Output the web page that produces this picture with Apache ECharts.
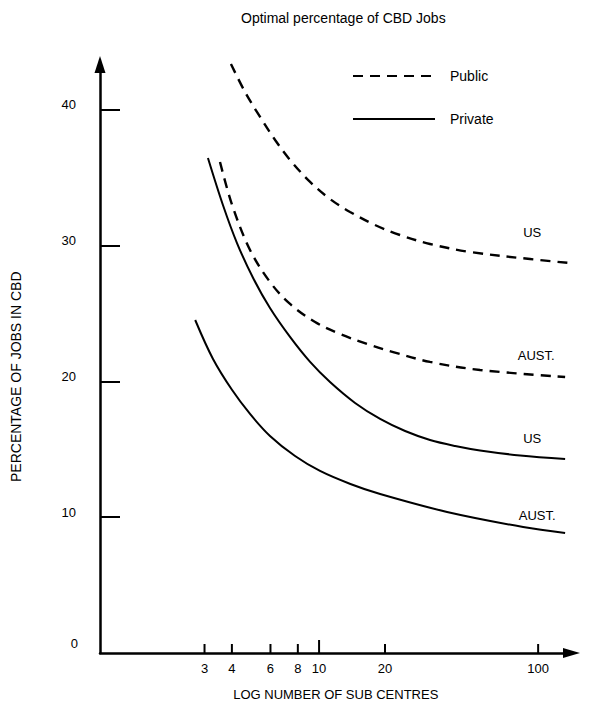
<!DOCTYPE html>
<html>
<head>
<meta charset="utf-8">
<script src="https://cdn.jsdelivr.net/npm/echarts@6/dist/echarts.min.js"></script>
<style>
html,body{margin:0;padding:0;background:#fff;}
#chart{width:595px;height:711px;}
</style>
</head>
<body>
<div id="chart"></div>
<script>
// ---- data ----
const publicUS_x   = [3.96, 4.59, 5.38, 6.30, 7.37, 9.10, 11.22, 13.85, 18.0, 23.4, 32.1, 48.9, 91.9, 172.8];
const publicUS_y   = [43.39, 41.33, 39.49, 37.79, 36.32, 34.7, 33.44, 32.49, 31.53, 30.79, 30.13, 29.54, 29.02, 28.58];
const publicAU_x   = [3.53, 4.01, 4.84, 5.97, 7.37, 9.59, 12.47, 16.57, 21.8, 32.1, 54.3, 132.8];
const publicAU_y   = [36.17, 33.0, 29.69, 27.33, 25.71, 24.38, 23.5, 22.76, 22.17, 21.44, 20.85, 20.33];
const privateUS_x  = [3.11, 3.64, 4.22, 5.00, 5.97, 7.37, 9.10, 11.22, 14.6, 19.0, 24.7, 32.1, 41.8, 54.3, 82.8, 132.8];
const privateUS_y  = [36.46, 33.0, 30.2, 27.62, 25.41, 23.28, 21.44, 19.96, 18.42, 17.24, 16.35, 15.69, 15.25, 14.92, 14.55, 14.29];
const privateAU_x  = [2.72, 3.28, 4.01, 4.84, 5.97, 7.77, 10.1, 13.9, 19.0, 38.4, 85.4, 132.8];
const privateAU_y  = [24.53, 21.66, 19.37, 17.61, 15.99, 14.51, 13.41, 12.45, 11.71, 10.39, 9.28, 8.84];

const xTickValues  = [3, 4, 6, 8, 10, 20, 100];
const xTickLabels  = ['3', '4', '6', '8', '10', '20', '100'];
const yTickValues  = [0, 10, 20, 30, 40];
const yTickLabels  = ['0', '10', '20', '30', '40'];

const curveLabelText = ['US', 'AUST.', 'US', 'AUST.'];
const curveLabelX    = [94, 98, 94, 99];
const curveLabelY    = [31.0, 21.95, 15.8, 10.1];

const legendNames = ['Public', 'Private'];
const titleText = 'Optimal percentage of CBD Jobs';
const xAxisTitle = 'LOG NUMBER OF SUB CENTRES';
const yAxisTitle = 'PERCENTAGE OF JOBS IN CBD';

// ---- build ----
const FONT = '"Liberation Sans", Arial, Helvetica, sans-serif';
function pairs(xs, ys){ return xs.map((x,i)=>[x, ys[i]]); }

const chart = echarts.init(document.getElementById('chart'), null, {renderer:'svg'});

const dashed = {color:'#000', width:2.4, type:[10,7]};
const solid  = {color:'#000', width:2};

function lineSeries(name, data, style){
  return {
    type:'line', name:name, data:data, smooth:0.35, symbol:'none', showSymbol:false,
    lineStyle:style, itemStyle:{color:'#000'}, clip:false, silent:true, z:3
  };
}

const X_MIN = 1, X_MAX = 142;

const option = {
  animation:false,
  backgroundColor:'#fff',
  title:{
    text:titleText, left:236, top:6,
    textStyle:{fontFamily:FONT, fontSize:14, fontWeight:'normal', color:'#000'}
  },
  legend:{
    data:legendNames, orient:'vertical', left:347, top:64, itemGap:29,
    itemWidth:82, itemHeight:14,
    itemStyle:{color:'rgba(0,0,0,0)', borderColor:'rgba(0,0,0,0)', borderWidth:0},
    textStyle:{fontFamily:FONT, fontSize:14, color:'#000', padding:[0,0,0,10]}
  },
  grid:{left:100, right:23.5, top:64.5, bottom:58, containLabel:false},
  xAxis:{
    type:'log', logBase:10, min:X_MIN, max:X_MAX,
    name:xAxisTitle, nameLocation:'middle', nameGap:35,
    nameTextStyle:{fontFamily:FONT, fontSize:13, color:'#000'},
    axisLine:{show:true, lineStyle:{color:'#000', width:2.5}, symbol:['none','triangle'], symbolSize:[10,17]},
    axisTick:{show:false}, axisLabel:{show:false}, splitLine:{show:false}, minorTick:{show:false}
  },
  yAxis:{
    type:'value', min:0, max:43.35,
    name:yAxisTitle, nameLocation:'middle', nameGap:77,
    nameTextStyle:{fontFamily:FONT, fontSize:14, color:'#000', padding:[0,36,0,0]},
    axisLine:{show:true, lineStyle:{color:'#000', width:2.5}, symbol:['none','triangle'], symbolSize:[11,17]},
    axisTick:{show:true, inside:true, length:20, lineStyle:{color:'#000', width:2}, customValues:[10,20,30,40]},
    axisLabel:{show:false},
    splitLine:{show:false}
  },
  series:[
    lineSeries(legendNames[0], pairs(publicUS_x, publicUS_y), dashed),
    lineSeries(legendNames[0], pairs(publicAU_x, publicAU_y), dashed),
    lineSeries(legendNames[1], pairs(privateUS_x, privateUS_y), solid),
    lineSeries(legendNames[1], pairs(privateAU_x, privateAU_y), solid),
    {
      type:'custom', name:'xticks', silent:true, clip:false, z:5,
      data: xTickValues.map((v,i)=>[v, 0, i]),
      renderItem:function(params, api){
        const v = api.value(0);
        const p = api.coord([v, 0]);
        const len = (v === 10) ? 13 : 9;
        return {type:'group', children:[
          {type:'line', shape:{x1:p[0], y1:p[1], x2:p[0], y2:p[1]-len}, style:{stroke:'#000', lineWidth:2}},
          {type:'text', x:p[0], y:p[1]+9, style:{text:xTickLabels[api.value(2)], fill:'#000', font:'13px ' + FONT, textAlign:'center', textVerticalAlign:'top'}}
        ]};
      }
    },
    {
      type:'custom', name:'ylabels', silent:true, clip:false, z:5,
      data: yTickValues.map((v,i)=>[X_MIN, v, i]),
      renderItem:function(params, api){
        const v = api.value(1);
        const p = api.coord([X_MIN, v]);
        const dy = (v === 0) ? -10 : -5;
        const dx = (v === 0) ? -22 : -24;
        return {type:'text', x:p[0]+dx, y:p[1]+dy,
          style:{text:yTickLabels[api.value(2)], fill:'#000', font:'13px ' + FONT, textAlign:'right', textVerticalAlign:'middle'}};
      }
    },
    {
      type:'custom', name:'curveLabels', silent:true, clip:false, z:6,
      data: curveLabelX.map((x,i)=>[x, curveLabelY[i], i]),
      renderItem:function(params, api){
        const p = api.coord([api.value(0), api.value(1)]);
        return {type:'text', x:p[0], y:p[1],
          style:{text:curveLabelText[api.value(2)], fill:'#000', font:'13px ' + FONT, textAlign:'center', textVerticalAlign:'middle'}};
      }
    }
  ]
};
chart.setOption(option);
</script>
</body>
</html>
